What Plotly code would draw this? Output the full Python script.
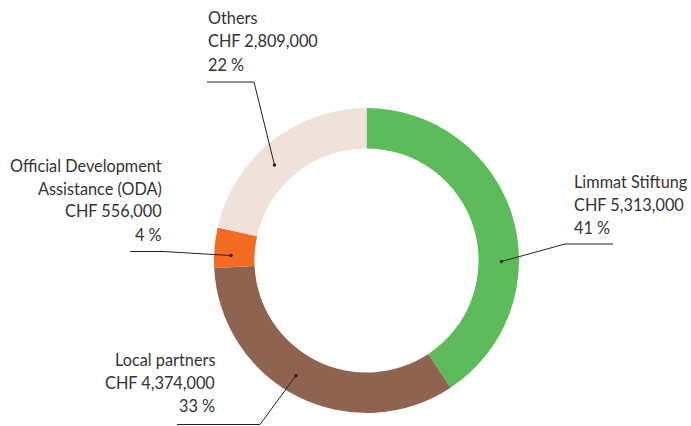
import plotly.graph_objects as go

categories = ["Limmat Stiftung", "Local partners", "Official Development Assistance (ODA)", "Others"]
values = [5313000, 4374000, 556000, 2809000]
percent_labels = ["41 %", "33 %", "4 %", "22 %"]
colors = ["#5dbb5b", "#8e6350", "#f26b21", "#f0e2da"]

W, H = 691, 426

def px(x, y):
    return x / W, 1 - y / H

fig = go.Figure()
fig.add_trace(go.Pie(
    labels=categories, values=values, sort=False, direction="clockwise",
    rotation=0, hole=0.735, textinfo="none", textposition="none",
    marker=dict(colors=colors, line=dict(width=0)),
    domain=dict(x=[214 / W, 519 / W], y=[13 / H, 318 / H]),
    showlegend=False,
))

def money(v):
    return "CHF {:,}".format(v)

# label blocks: (lines, x anchor px, align, line centers px)
blocks = [
    (["Limmat Stiftung", money(values[0]), percent_labels[0]], 572, "left", [181, 204, 227]),
    (["Local partners", money(values[1]), percent_labels[1]], 217, "right", [359, 382.5, 405.5]),
    (["Official Development", "Assistance (ODA)", money(values[2]), percent_labels[2]], 164, "right", [165.5, 188.5, 211, 234]),
    (["Others", money(values[3]), percent_labels[3]], 206, "left", [17.5, 41, 64.5]),
]
annotations = []
for lines, xa, al, ys in blocks:
    for t, yy in zip(lines, ys):
        x, y = px(xa, yy)
        annotations.append(dict(
            text=t, x=x, y=y, xref="paper", yref="paper", showarrow=False,
            xanchor=al, yanchor="middle", align=al,
            font=dict(family="Lato", size=16.3, color="#333333"),
        ))

# leader lines (px path points) and dot anchors
leaders = [
    [(613, 244), (565, 244), (501.5, 261.5)],
    [(177, 424.5), (260, 424.5), (296, 375.5)],
    [(130, 251.5), (163, 251.5), (231, 255.5)],
    [(207, 82), (254, 82), (274.5, 165)],
]
shapes = []
for pts in leaders:
    path = "M " + " L ".join("{:.5f},{:.5f}".format(*px(*p)) for p in pts)
    shapes.append(dict(type="path", path=path, xref="paper", yref="paper",
                       line=dict(color="#222222", width=1)))
    dx, dy = px(*pts[-1])
    shapes.append(dict(type="circle", xref="paper", yref="paper",
                       xsizemode="pixel", ysizemode="pixel", xanchor=dx, yanchor=dy,
                       x0=-1.7, x1=1.7, y0=-1.7, y1=1.7,
                       fillcolor="#222222", line=dict(width=0)))

fig.update_layout(
    width=W, height=H, margin=dict(l=0, r=0, t=0, b=0),
    paper_bgcolor="white", plot_bgcolor="white",
    annotations=annotations, shapes=shapes,
)
fig.write_html(
    "out.html",
    config={"displayModeBar": False},
    post_script="document.body.style.margin='0';document.body.style.overflow='hidden';",
)
